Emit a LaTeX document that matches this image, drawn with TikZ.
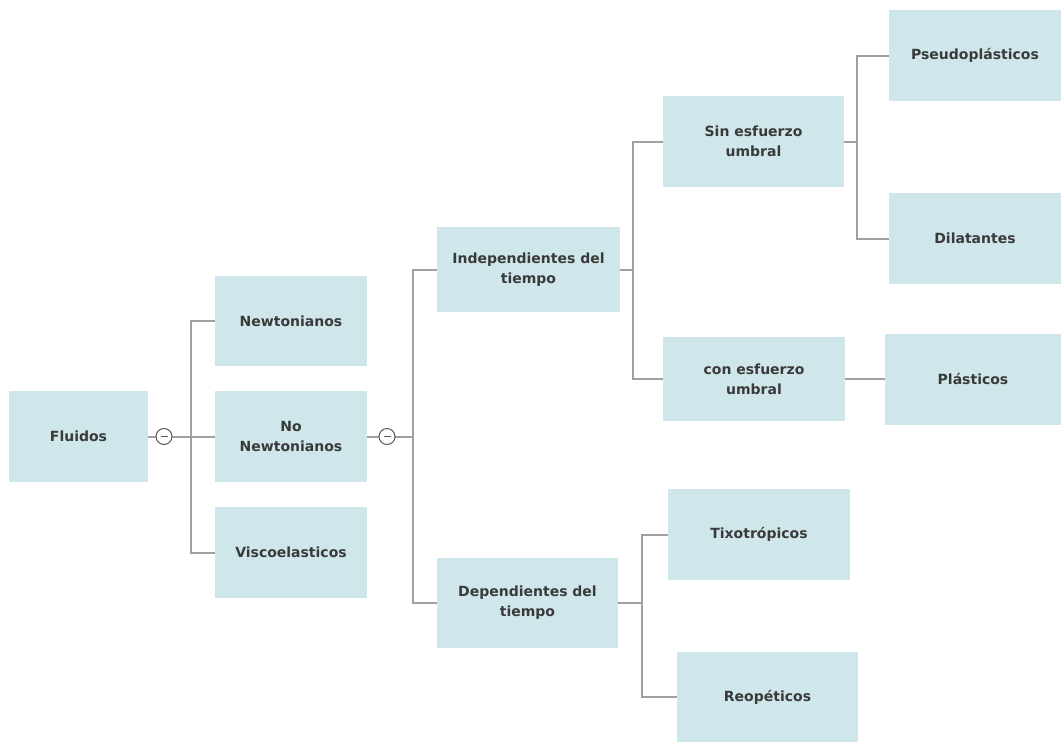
\documentclass[tikz,border=0pt]{standalone}
\usepackage{fontspec}
\setmainfont{DejaVu Sans}
\definecolor{boxfill}{HTML}{CFE7EA}
\definecolor{txt}{HTML}{3A3A3A}
\definecolor{lin}{HTML}{A0A0A0}
\begin{document}
\begin{tikzpicture}[x=1pt,y=-1pt,
  box/.style={fill=boxfill,draw=none,inner sep=0pt,align=center,text=txt,
    font=\fontsize{14}{20}\selectfont\bfseries},
  conn/.style={draw=lin,line width=2pt},
  toggle/.style={circle,draw=txt!85,fill=white,line width=1pt,minimum size=16pt,inner sep=0pt,
    path picture={\draw[txt!85,line width=1pt] ([xshift=-3.5pt]path picture bounding box.center) -- ([xshift=3.5pt]path picture bounding box.center);}}]
\useasboundingbox (0,0) rectangle (1061,742);
\fill[white] (0,0) rectangle (1061,742);
% nodes
\node[box,minimum width=139,minimum height=91] (fl) at (78.5,436.5) {Fluidos};
\node[box,minimum width=152,minimum height=90] (nw) at (291,321) {Newtonianos};
\node[box,minimum width=152,minimum height=91] (nn) at (291,436.5) {No\\Newtonianos};
\node[box,minimum width=152,minimum height=91] (vi) at (291,552.5) {Viscoelasticos};
\node[box,minimum width=183,minimum height=85] (ind) at (528.5,269.5) {Independientes del\\tiempo};
\node[box,minimum width=181,minimum height=90] (dep) at (527.5,603) {Dependientes del\\tiempo};
\node[box,minimum width=181,minimum height=91] (sin) at (753.5,141.5) {Sin esfuerzo\\umbral};
\node[box,minimum width=182,minimum height=84] (con) at (754,379) {con esfuerzo\\umbral};
\node[box,minimum width=182,minimum height=91] (tix) at (759,534.5) {Tixotrópicos};
\node[box,minimum width=181,minimum height=90] (reo) at (767.5,697) {Reopéticos};
\node[box,minimum width=172,minimum height=91] (pse) at (975,55.5) {Pseudoplásticos};
\node[box,minimum width=172,minimum height=91] (dil) at (975,238.5) {Dilatantes};
\node[box,minimum width=176,minimum height=91] (pla) at (973,379) {Plásticos};
% junctions
\coordinate (c1) at (164,436.5);
\coordinate (c2) at (387,436.5);
\coordinate (j1) at (191,436.5);
\coordinate (j2) at (413,436.5);
\coordinate (j3) at (633,269.5);
\coordinate (j4) at (857,141.5);
\coordinate (j5) at (642,603);
% connectors
\draw[conn] (fl.east) -- (nn.west);
\draw[conn] (j1) |- (nw.west);
\draw[conn] (j1) |- (vi.west);
\draw[conn] (nn.east) -- (j2);
\draw[conn] (j2) |- (ind.west);
\draw[conn] (j2) |- (dep.west);
\draw[conn] (ind.east) -- (j3);
\draw[conn] (j3) |- (sin.west);
\draw[conn] (j3) |- (con.west);
\draw[conn] (sin.east) -- (j4);
\draw[conn] (j4) |- (pse.west);
\draw[conn] (j4) |- (dil.west);
\draw[conn] (con.east) -- (pla.west);
\draw[conn] (dep.east) -- (j5);
\draw[conn] (j5) |- (tix.west);
\draw[conn] (j5) |- (reo.west);
% toggles
\node[toggle] (t1) at (c1) {};
\node[toggle] (t2) at (c2) {};
\end{tikzpicture}
\end{document}
